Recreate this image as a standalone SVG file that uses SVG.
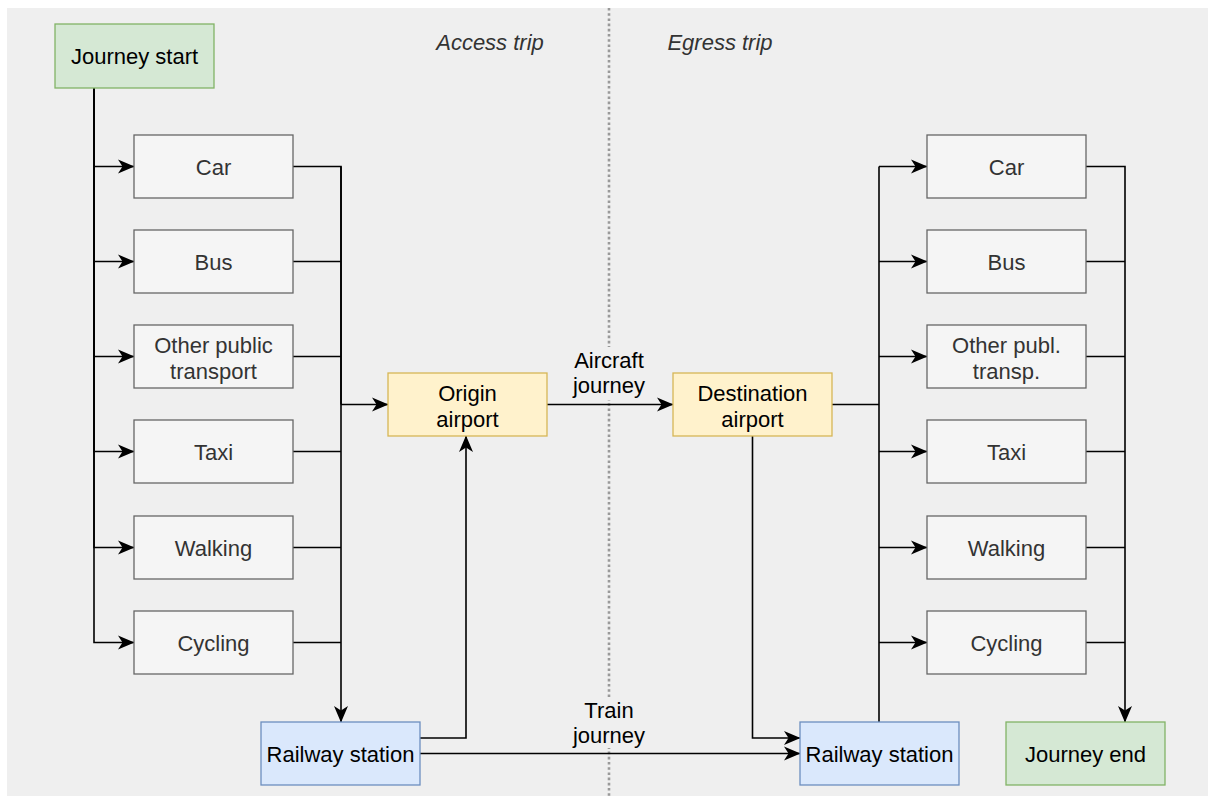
<svg xmlns="http://www.w3.org/2000/svg" width="1208" height="796" viewBox="0 0 1208 796">
<style>
text{font-family:"Liberation Sans",Arial,Helvetica,sans-serif;font-size:22px;text-anchor:middle}
.mode rect{fill:#f5f5f5;stroke:#666666;stroke-width:1.3}
.mode text{fill:#333333}
.green rect{fill:#d5e8d4;stroke:#82b366;stroke-width:1.3}
.yellow rect{fill:#fff2cc;stroke:#d6b656;stroke-width:1.3}
.blue rect{fill:#dae8fc;stroke:#6c8ebf;stroke-width:1.3}
.dark{fill:#000000}
.title{font-style:italic;fill:#333333}
#connectors path{fill:none;stroke:#000000;stroke-width:1.6}
.arr{marker-end:url(#arrow)}
.lbl{fill:#efefef}
</style>
<defs>
<marker id="arrow" markerWidth="18" markerHeight="16" refX="16" refY="7.5" orient="auto" markerUnits="userSpaceOnUse">
<path d="M0,0.5 L16.5,7.5 L0,14.5 L4.5,7.5 z" fill="#000000"/>
</marker>
</defs>
<rect x="7" y="8" width="1201" height="788" fill="#efefef"/>
<line x1="609" y1="8" x2="609" y2="796" stroke="#999999" stroke-width="2.6" stroke-dasharray="2.6 2.6"/>
<text class="title" x="490" y="50">Access trip</text>
<text class="title" x="720" y="50">Egress trip</text>

<g id="connectors">
<path class="arr" d="M94,88 V166.5 H134"/>
<path class="arr" d="M94,88 V261.5 H134"/>
<path class="arr" d="M94,88 V356.5 H134"/>
<path class="arr" d="M94,88 V451.5 H134"/>
<path class="arr" d="M94,88 V547.5 H134"/>
<path class="arr" d="M94,88 V642.5 H134"/>
<path d="M293,166.5 H341 V404.5"/>
<path d="M293,261.5 H341"/>
<path d="M293,356.5 H341"/>
<path d="M293,451.5 H341"/>
<path d="M293,547.5 H341"/>
<path d="M293,642.5 H341"/>
<path class="arr" d="M341,166.5 V722"/>
<path class="arr" d="M341,404.5 H388"/>
<path class="arr" d="M420,738 H466 V436"/>
<path class="arr" d="M547,404.5 H673"/>
<path class="arr" d="M752.5,436 V738 H800"/>
<path class="arr" d="M420,753.5 H800"/>
<path d="M832,404.5 H879"/>
<path d="M879,722 V166.5"/>
<path class="arr" d="M879,166.5 H927"/>
<path class="arr" d="M879,261.5 H927"/>
<path class="arr" d="M879,356.5 H927"/>
<path class="arr" d="M879,451.5 H927"/>
<path class="arr" d="M879,547.5 H927"/>
<path class="arr" d="M879,642.5 H927"/>
<path class="arr" d="M1086,166.5 H1125 V722"/>
<path d="M1086,261.5 H1125"/>
<path d="M1086,356.5 H1125"/>
<path d="M1086,451.5 H1125"/>
<path d="M1086,547.5 H1125"/>
<path d="M1086,642.5 H1125"/>
<rect class="lbl" x="571" y="347" width="76" height="53"/>
<text class="dark" x="609" y="368">Aircraft</text>
<text class="dark" x="609" y="393">journey</text>
<rect class="lbl" x="571" y="697" width="76" height="51"/>
<text class="dark" x="609" y="718">Train</text>
<text class="dark" x="609" y="743">journey</text>
</g>

<g id="journey-start" class="green"><rect x="55" y="24" width="159" height="64"/><text class="dark" x="134.5" y="64">Journey start</text></g>
<g id="l-car" class="mode"><rect x="134" y="135" width="159" height="63"/><text x="213.5" y="174.5">Car</text></g>
<g id="l-bus" class="mode"><rect x="134" y="230" width="159" height="63"/><text x="213.5" y="269.5">Bus</text></g>
<g id="l-other" class="mode"><rect x="134" y="325" width="159" height="63"/><text x="213.5" y="353">Other public</text><text x="213.5" y="379">transport</text></g>
<g id="l-taxi" class="mode"><rect x="134" y="420" width="159" height="63"/><text x="213.5" y="459.5">Taxi</text></g>
<g id="l-walking" class="mode"><rect x="134" y="516" width="159" height="63"/><text x="213.5" y="555.5">Walking</text></g>
<g id="l-cycling" class="mode"><rect x="134" y="611" width="159" height="63"/><text x="213.5" y="650.5">Cycling</text></g>
<g id="origin-airport" class="yellow"><rect x="388" y="373" width="159" height="63"/><text class="dark" x="467.5" y="401">Origin</text><text class="dark" x="467.5" y="427">airport</text></g>
<g id="dest-airport" class="yellow"><rect x="673" y="373" width="159" height="63"/><text class="dark" x="752.5" y="401">Destination</text><text class="dark" x="752.5" y="427">airport</text></g>
<g id="rail-left" class="blue"><rect x="261" y="722" width="159" height="63"/><text class="dark" x="340.5" y="761.5">Railway station</text></g>
<g id="rail-right" class="blue"><rect x="800" y="722" width="159" height="63"/><text class="dark" x="879.5" y="761.5">Railway station</text></g>
<g id="r-car" class="mode"><rect x="927" y="135" width="159" height="63"/><text x="1006.5" y="174.5">Car</text></g>
<g id="r-bus" class="mode"><rect x="927" y="230" width="159" height="63"/><text x="1006.5" y="269.5">Bus</text></g>
<g id="r-other" class="mode"><rect x="927" y="325" width="159" height="63"/><text x="1006.5" y="353">Other publ.</text><text x="1006.5" y="379">transp.</text></g>
<g id="r-taxi" class="mode"><rect x="927" y="420" width="159" height="63"/><text x="1006.5" y="459.5">Taxi</text></g>
<g id="r-walking" class="mode"><rect x="927" y="516" width="159" height="63"/><text x="1006.5" y="555.5">Walking</text></g>
<g id="r-cycling" class="mode"><rect x="927" y="611" width="159" height="63"/><text x="1006.5" y="650.5">Cycling</text></g>
<g id="journey-end" class="green"><rect x="1006" y="722" width="159" height="63"/><text class="dark" x="1085.5" y="761.5">Journey end</text></g>
</svg>
